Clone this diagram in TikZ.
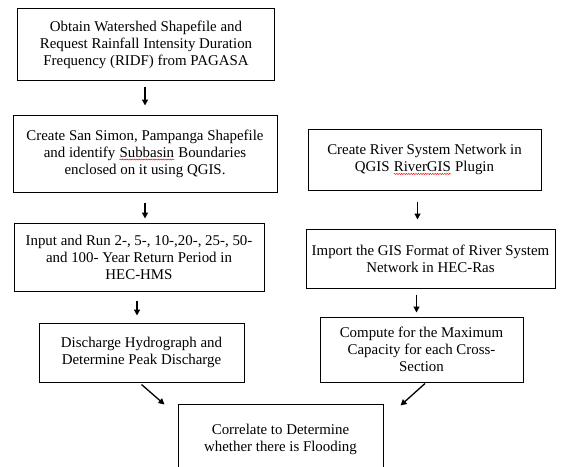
\documentclass[tikz,border=0pt]{standalone}
\usepackage{fontspec}
\setmainfont{Liberation Serif}
\usetikzlibrary{arrows.meta,decorations.pathmorphing}

% red spell-check wave under a word
\newcommand{\spellmark}[1]{\tikz[baseline=(sw.base)]{%
  \node[inner sep=0pt,draw=none,minimum width=0pt,minimum height=0pt] (sw) {#1};
  \draw[red,line width=0.5pt,decorate,decoration={snake,amplitude=0.5pt,segment length=2.4pt}]
    ([yshift=-2.4pt]sw.base west) -- ([yshift=-2.4pt]sw.base east);}}

\begin{document}
\begin{tikzpicture}[x=1pt,y=-1pt,>={Triangle[length=6pt,width=6pt]},
                    font=\fontsize{14.9}{17}\selectfont,
                    stepbox/.style={draw,line width=1pt,align=center,inner sep=0pt,
                                    minimum width=#1},
                    flow/.style={->,line width=1.3pt}]
  \useasboundingbox (0,0) rectangle (564,466);
  \begin{scope}
  \clip (0,0) rectangle (564,466);
  % left column
  \node[stepbox=257pt,minimum height=72pt] (b1) at (146,44.5)
    {Obtain Watershed Shapefile and\\Request Rainfall Intensity Duration\\Frequency (RIDF) from PAGASA};
  \node[stepbox=264pt,minimum height=77pt] (b2) at (145,153.5)
    {Create San Simon, Pampanga Shapefile\\and identify \spellmark{Subbasin} Boundaries\\enclosed on it using QGIS.};
  \node[stepbox=250pt,minimum height=68pt] (b3) at (139,257)
    {Input and Run 2-, 5-, 10-,20-, 25-, 50-\\and 100- Year Return Period in\\HEC-HMS};
  \node[stepbox=205pt,minimum height=59pt] (b4) at (141.5,352.5)
    {Discharge Hydrograph and\\Determine Peak Discharge};
  % right column
  \node[stepbox=233pt,minimum height=61pt] (r1) at (424.5,159.5)
    {Create River System Network in\\QGIS \spellmark{RiverGIS} Plugin};
  \node[stepbox=249pt,minimum height=59pt] (r2) at (430.5,258.5)
    {Import the GIS Format of River System\\Network in HEC-Ras};
  \node[stepbox=203pt,minimum height=65pt] (r3) at (421.5,349.5)
    {Compute for the Maximum\\Capacity for each Cross-\\Section};
  % bottom, cut by the page edge
  \node[stepbox=205pt,minimum height=70pt] (c) at (280.5,439)
    {Correlate to Determine\\whether there is Flooding};
  \end{scope}
  % arrows
  \draw[flow,shorten <=6pt,shorten >=9pt] ([xshift=-1pt]b1.south) -- ([xshift=-1pt]b1.south |- b2.north);
  \draw[flow,shorten <=10pt,shorten >=4pt] (b2.south) -- (b2.south |- b3.north);
  \draw[flow,shorten <=9pt,shorten >=7pt] ([xshift=-2pt]b3.south) -- ([xshift=-2pt]b3.south |- b4.north);
  \draw[flow,shorten <=11pt,shorten >=9pt] ([xshift=-7pt]r1.south) -- ([xshift=-7pt]r1.south |- r2.north);
  \draw[flow,shorten <=6pt,shorten >=4pt] ([xshift=-14pt]r2.south) -- ([xshift=-14pt]r2.south |- r3.north);
  \draw[flow] ([yshift=-2pt]b4.south) -- ([xshift=-116pt,yshift=-1pt]c.north);
  \draw[flow] ([xshift=3.5pt,yshift=-1pt]r3.south) -- ([xshift=120pt,yshift=-2pt]c.north);
\end{tikzpicture}
\end{document}
